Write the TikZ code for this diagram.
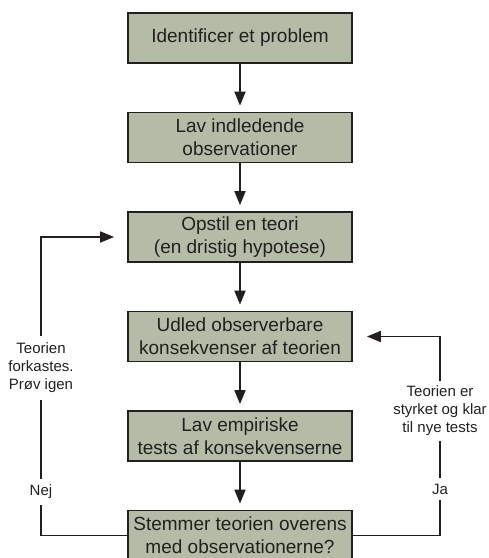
\documentclass[tikz,border=0pt]{standalone}
\usepackage{fontspec}
\setmainfont{Liberation Sans}
\usepackage{xcolor}
\usetikzlibrary{arrows.meta,calc}
\usetikzlibrary{positioning}

\definecolor{boxgreen}{RGB}{180,188,168}
\definecolor{inkgrey}{RGB}{35,31,32}

\begin{document}
\begin{tikzpicture}[x=1pt, y=1pt, node distance=47.7pt, auto,
    stepbox/.style={draw=inkgrey, line width=1.8pt, fill=boxgreen, text=inkgrey,
        minimum width=224pt, minimum height=50pt, inner sep=0pt, align=center,
        font=\fontsize{19}{23}\selectfont},
    flow/.style={draw=inkgrey, line width=1.8pt, -{Triangle[length=14pt,width=11pt]}},
    loopline/.style={draw=inkgrey, line width=1.8pt},
    side/.style={align=center, text=inkgrey, inner xsep=2pt, inner ysep=5.5pt,
        font=\fontsize{15}{18}\selectfont}]
    \useasboundingbox (0,0) rectangle (489,-558);

    % Steps
    \node[stepbox] (ident) at (240,-38) {Identificer et problem};
    \node[stepbox, below=of ident] (prelim) {Lav indledende\\observationer};
    \node[stepbox, below=of prelim] (theory) {Opstil en teori\\(en dristig hypotese)};
    \node[stepbox, below=of theory] (derive) {Udled observerbare\\konsekvenser af teorien};
    \node[stepbox, below=of derive] (tests) {Lav empiriske\\tests af konsekvenserne};
    \node[stepbox, below=of tests] (verdict) {Stemmer teorien overens\\med observationerne?};

    % Side labels
    \node[side, inner ysep=7pt] (reject) at (41,-368) {Teorien\\forkastes.\\Prøv igen};
    \node[side] (nej) at (41,-492) {Nej};
    \node[side, inner ysep=5pt] (keep) at (440,-411) {Teorien er\\styrket og klar\\til nye tests};
    \node[side] (ja) at (440,-489) {Ja};

    % Main flow
    \draw[flow, shorten >=6pt] (ident) -- (prelim);
    \draw[flow, shorten >=6pt] (prelim) -- (theory);
    \draw[flow, shorten >=6pt] (theory) -- (derive);
    \draw[flow, shorten >=6pt] (derive) -- (tests);
    \draw[flow, shorten >=6pt] (tests) -- (verdict);

    % No: back to a new theory
    \draw[loopline] (verdict.west) -| (nej.south);
    \draw[loopline] (nej.north) -- (reject.south);
    \draw[flow, shorten >=13pt] (reject.north) |- (theory.west);

    % Yes: derive new consequences
    \draw[loopline] (verdict.east) -| (ja.south);
    \draw[loopline] (ja.north) -- (keep.south);
    \draw[flow, shorten >=14pt] (keep.north) |- (derive.east);
\end{tikzpicture}
\end{document}
